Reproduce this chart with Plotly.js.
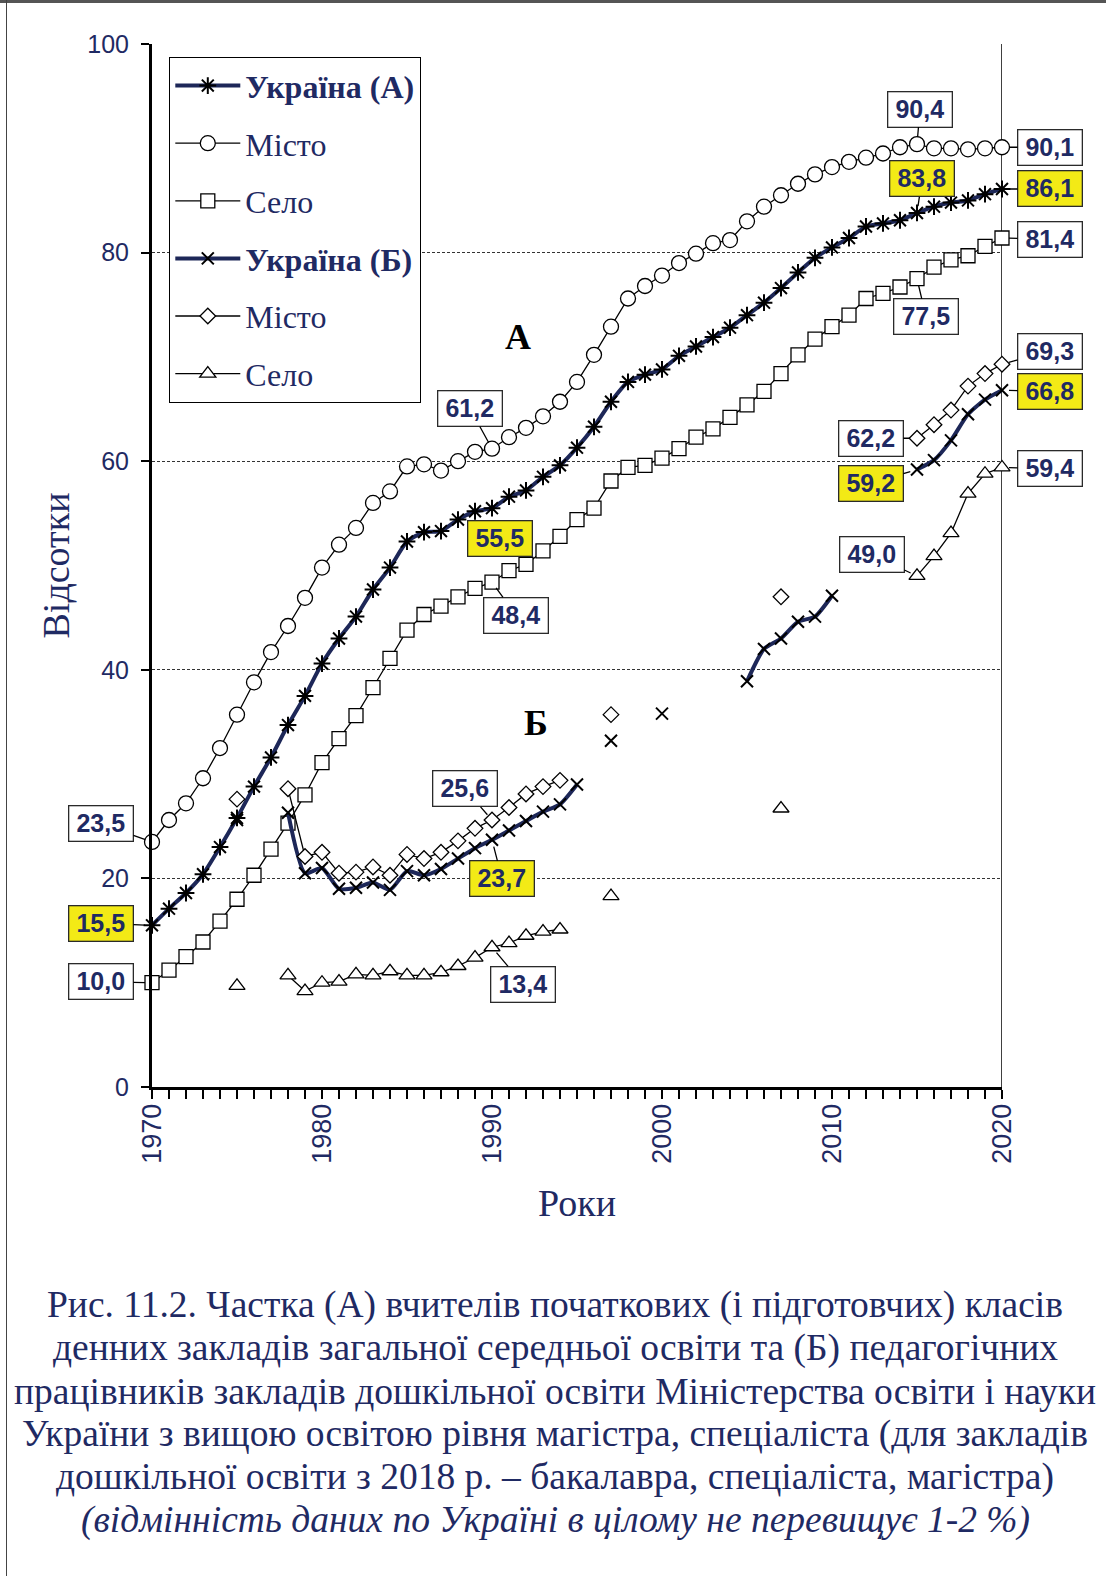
<!DOCTYPE html>
<html>
<head>
<meta charset="utf-8">
<script src="https://cdn.plot.ly/plotly-3.0.1.min.js"></script>
<style>
  html, body { margin: 0; padding: 0; background: #fff; }
  #chart { width: 1106px; height: 1576px; }
</style>
</head>
<body>
<div id="chart"></div>
<script>
// ---------- DATA ----------
const years = [];
for (let y = 1970; y <= 2020; y++) years.push(y);

// (А) вчителі початкових класів
const ukrA = [15.5,17.1,18.6,20.4,23.0,25.8,28.8,31.6,34.7,37.5,
              40.6,43.0,45.1,47.7,49.8,52.3,53.2,53.3,54.4,55.2,
              55.5,56.6,57.2,58.5,59.6,61.3,63.3,65.7,67.6,68.3,
              68.8,70.1,71.0,71.9,72.8,74.0,75.2,76.6,78.1,79.5,
              80.5,81.4,82.5,82.8,83.1,83.8,84.4,84.8,85.0,85.6,86.1];
const mistoA = [23.5,25.6,27.2,29.6,32.5,35.7,38.8,41.7,44.2,46.9,
                49.8,52.0,53.6,56.0,57.1,59.5,59.7,59.1,60.0,60.9,
                61.2,62.3,63.2,64.3,65.7,67.6,70.2,72.9,75.6,76.8,
                77.8,79.0,79.9,80.9,81.2,83.0,84.4,85.5,86.6,87.5,
                88.2,88.7,89.1,89.5,90.1,90.4,90.0,90.0,89.9,90.0,90.1];
const seloA = [10.0,11.2,12.5,13.9,15.9,18.0,20.3,22.8,25.3,28.0,
               31.1,33.4,35.6,38.3,41.1,43.8,45.3,46.1,47.0,47.8,
               48.4,49.5,50.1,51.4,52.8,54.4,55.5,58.1,59.4,59.6,
               60.3,61.2,62.3,63.1,64.2,65.4,66.7,68.4,70.2,71.7,
               72.9,74.0,75.6,76.1,76.7,77.5,78.6,79.3,79.7,80.6,81.4];

// (Б) педагогічні працівники закладів дошкільної освіти (null = немає даних)
const ukrB = [null,null,null,null,null,25.6,null,null,26.3,20.5,
              21.0,19.0,19.1,19.6,18.9,20.7,20.3,20.9,21.9,22.9,
              23.7,24.6,25.5,26.4,27.1,29.0,null,33.2,null,null,
              35.8,null,null,null,null,38.9,42.0,43.0,44.6,45.1,
              47.1,null,null,null,null,59.2,60.1,62.0,64.5,65.9,66.8];
const mistoB = [null,null,null,null,null,27.6,null,null,28.6,22.1,
                22.5,20.5,20.6,21.1,20.3,22.3,21.9,22.5,23.6,24.8,
                25.6,26.8,28.1,28.8,29.4,null,null,35.7,null,null,
                null,null,null,null,null,null,null,47.0,null,null,
                null,null,null,null,null,62.2,63.5,64.9,67.2,68.4,69.3];
const seloB = [null,null,null,null,null,9.7,null,null,10.7,9.2,
               10.0,10.1,10.8,10.7,11.1,10.7,10.7,11.0,11.6,12.4,
               13.4,13.8,14.5,14.9,15.1,null,null,18.3,null,null,
               null,null,null,null,null,null,null,26.7,null,null,
               null,null,null,null,null,49.0,50.9,53.1,56.9,58.8,59.4];

const seriesNames = ['<b>Україна (А)</b>','Місто','Село','<b>Україна (Б)</b>','Місто','Село'];
const xTickVals = [1970,1980,1990,2000,2010,2020];
const yTickVals = [0,20,40,60,80,100];
const xTitle = 'Роки';
const yTitle = 'Відсотки';
const captionLines = [
  'Рис. 11.2. Частка (А) вчителів початкових (і підготовчих) класів',
  'денних закладів загальної середньої освіти та (Б) педагогічних',
  'працівників закладів дошкільної освіти Міністерства освіти і науки',
  'України з вищою освітою рівня магістра, спеціаліста (для закладів',
  'дошкільної освіти з 2018 р. – бакалавра, спеціаліста, магістра)',
  '<i>(відмінність даних по Україні в цілому не перевищує 1-2 %)</i>'
];

// ---------- STYLE / LAYOUT ----------
const NAVY = '#1f2a63';
const LINE_NAVY = '#1d2758';
const YELLOW = '#f3ea16';
const SERIF = 'Liberation Serif, Times New Roman, serif';
const SANS = 'Liberation Sans, Arial, sans-serif';

const W = 1106, H = 1576;
const M = {l: 152, r: 104, t: 44, b: 489};
const PW = W - M.l - M.r, PH = H - M.t - M.b;
const pxX = px => (px - M.l) / PW;
const pxY = py => (H - M.b - py) / PH;

function mk(symbol, size, fill, lw) {
  return {symbol: symbol, size: size, color: fill, line: {color: 'black', width: lw}};
}

const traces = [
  {y: ukrA, name: seriesNames[0], line: {color: LINE_NAVY, width: 4, shape: 'spline', smoothing: 0.6},
   marker: {symbol: 'asterisk-open', size: 14, color: 'black', line: {color: 'black', width: 2}}},
  {y: mistoA, name: seriesNames[1], line: {color: 'black', width: 1.3},
   marker: mk('circle', 15, 'white', 1.3)},
  {y: seloA, name: seriesNames[2], line: {color: 'black', width: 1.3},
   marker: mk('square', 14, 'white', 1.3)},
  {y: ukrB, name: seriesNames[3], line: {color: LINE_NAVY, width: 4, shape: 'spline', smoothing: 0.6},
   marker: {symbol: 'x-thin-open', size: 12, color: 'black', line: {color: 'black', width: 2}}},
  {y: mistoB, name: seriesNames[4], line: {color: 'black', width: 1.3},
   marker: mk('diamond', 12, 'white', 1.3)},
  {y: seloB, name: seriesNames[5], line: {color: 'black', width: 1.3},
   marker: mk('triangle-up', 14, 'white', 1.3)}
].map((t, i) => Object.assign({
  x: years, type: 'scatter', mode: 'lines+markers', connectgaps: false,
  cliponaxis: false, legendgroup: 'g' + i, hoverinfo: 'x+y'
}, t));

// value labels: series index, year, offset of box from point (px)
const seriesData = [ukrA, mistoA, seloA, ukrB, mistoB, seloB];
const labelSpecs = [
  {s: 1, yr: 1970, ax: -51, ay: -18},
  {s: 0, yr: 1970, ax: -51, ay: -2, yellow: true},
  {s: 2, yr: 1970, ax: -51, ay: -1},
  {s: 1, yr: 1990, ax: -22, ay: -40},
  {s: 0, yr: 1990, ax: 8, ay: 30, yellow: true, noArrow: true},
  {s: 2, yr: 1990, ax: 24, ay: 33},
  {s: 4, yr: 1990, ax: -27, ay: -31},
  {s: 3, yr: 1990, ax: 10, ay: 39, yellow: true},
  {s: 5, yr: 1990, ax: 31, ay: 37},
  {s: 1, yr: 2015, ax: 3, ay: -35},
  {s: 0, yr: 2015, ax: 5, ay: -34, yellow: true},
  {s: 2, yr: 2015, ax: 9, ay: 38},
  {s: 4, yr: 2015, ax: -46, ay: 0},
  {s: 3, yr: 2015, ax: -46, ay: 14, yellow: true},
  {s: 5, yr: 2015, ax: -45, ay: -21},
  {s: 1, yr: 2020, ax: 48, ay: 0},
  {s: 0, yr: 2020, ax: 48, ay: 0, yellow: true},
  {s: 2, yr: 2020, ax: 48, ay: 1},
  {s: 4, yr: 2020, ax: 48, ay: -13},
  {s: 3, yr: 2020, ax: 48, ay: 1, yellow: true},
  {s: 5, yr: 2020, ax: 48, ay: 1}
];

const annotations = labelSpecs.map(sp => {
  const v = seriesData[sp.s][years.indexOf(sp.yr)];
  const a = {
    x: sp.yr, y: v, xref: 'x', yref: 'y',
    text: '<b>' + v.toFixed(1).replace('.', ',') + '</b>',
    font: {family: SANS, size: 25, color: NAVY},
    bgcolor: sp.yellow ? YELLOW : 'white',
    bordercolor: '#2a2a2a', borderwidth: 1.3, borderpad: 1,
    width: 61, height: 32, align: 'center', valign: 'middle'
  };
  if (sp.noArrow) {
    a.showarrow = false; a.xshift = sp.ax; a.yshift = -sp.ay;
  } else {
    a.showarrow = true; a.ax = sp.ax; a.ay = sp.ay; a.axref = 'pixel'; a.ayref = 'pixel';
    a.arrowhead = 0; a.arrowwidth = 1.3; a.arrowcolor = 'black'; a.standoff = 7;
  }
  return a;
});

annotations.push(
  {x: 1991.5, y: 71.9, xref: 'x', yref: 'y', showarrow: false, text: '<b>А</b>',
   font: {family: SERIF, size: 36, color: 'black'}},
  {x: 1992.6, y: 34.9, xref: 'x', yref: 'y', showarrow: false, text: '<b>Б</b>',
   font: {family: SERIF, size: 36, color: 'black'}}
);
// caption: one annotation per line (tight line spacing as in the source)
captionLines.forEach((ln, i) => {
  annotations.push({
    x: pxX(555), y: pxY(1305 + i * 43), xref: 'paper', yref: 'paper', showarrow: false,
    xanchor: 'center', yanchor: 'middle', align: 'center', text: ln,
    font: {family: SERIF, size: 37.5, color: NAVY}
  });
});

const shapes = [
  // right frame line of plot area at last year
  {type: 'line', xref: 'x', yref: 'y', x0: 2020, x1: 2020, y0: 0, y1: 100,
   line: {color: 'black', width: 1.5}, layer: 'below'},
  // page frame (top and left)
  {type: 'line', xref: 'paper', yref: 'paper', x0: pxX(0), x1: pxX(W), y0: pxY(1.5), y1: pxY(1.5),
   line: {color: '#555', width: 3}},
  {type: 'line', xref: 'paper', yref: 'paper', x0: pxX(6.5), x1: pxX(6.5), y0: pxY(0), y1: pxY(H),
   line: {color: '#444', width: 1}}
];

const layout = {
  width: W, height: H,
  margin: M,
  paper_bgcolor: 'white', plot_bgcolor: 'white',
  showlegend: true,
  legend: {
    x: pxX(169), y: pxY(57), xanchor: 'left', yanchor: 'top',
    bordercolor: 'black', borderwidth: 1.3, bgcolor: 'white',
    font: {family: SERIF, size: 32, color: NAVY},
    itemwidth: 65, tracegroupgap: 13, traceorder: 'grouped', itemsizing: 'trace'
  },
  xaxis: {
    range: [1970, 2020], tickmode: 'array', tickvals: xTickVals,
    ticktext: xTickVals.map(String), tickangle: -90,
    showgrid: false, zeroline: false,
    showline: true, linecolor: 'black', linewidth: 3,
    ticks: 'outside', ticklen: 9, tickwidth: 2.5, tickcolor: 'black',
    ticklabelstandoff: -6,
    minor: {dtick: 1, ticks: 'outside', ticklen: 9, tickwidth: 2.5, tickcolor: 'black', showgrid: false},
    tickfont: {family: SANS, size: 27, color: NAVY},
    title: {text: xTitle, font: {family: SERIF, size: 38, color: NAVY}, standoff: 27}
  },
  yaxis: {
    range: [0, 100], tickmode: 'array', tickvals: yTickVals,
    showgrid: true, gridcolor: '#333', gridwidth: 1, griddash: '3px,2px',
    zeroline: false,
    showline: true, linecolor: 'black', linewidth: 3,
    ticks: 'outside', ticklen: 8, tickwidth: 2, tickcolor: 'black',
    ticklabelstandoff: 7,
    tickfont: {family: SANS, size: 25, color: NAVY},
    title: {text: yTitle, font: {family: SERIF, size: 38, color: NAVY}, standoff: 6}
  },
  annotations: annotations,
  shapes: shapes
};

Plotly.newPlot('chart', traces, layout, {displayModeBar: false, staticPlot: true});
</script>
</body>
</html>
